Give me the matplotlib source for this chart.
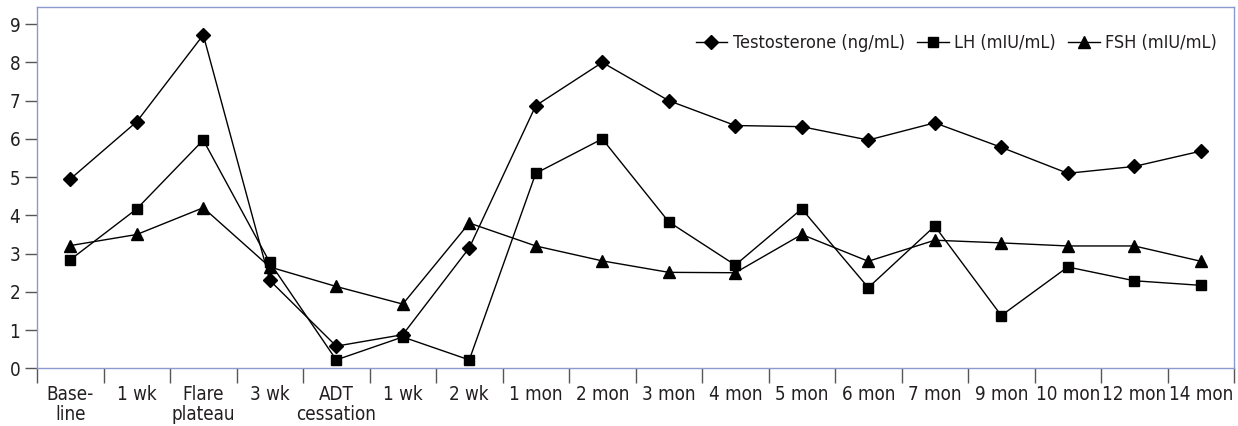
import matplotlib
matplotlib.use("Agg")
from matplotlib import pyplot as plt
from matplotlib import font_manager
from matplotlib.ticker import FixedLocator, NullFormatter

# categories along the x axis
categories = ["Base-\nline", "1 wk", "Flare\nplateau", "3 wk", "ADT\ncessation", "1 wk", "2 wk",
              "1 mon", "2 mon", "3 mon", "4 mon", "5 mon", "6 mon", "7 mon", "9 mon",
              "10 mon", "12 mon", "14 mon"]

testosterone = [4.95, 6.45, 8.72, 2.3, 0.58, 0.88, 3.15, 6.87, 8.0, 7.0, 6.35, 6.32,
                5.97, 6.42, 5.78, 5.1, 5.28, 5.68]
lh = [2.84, 4.17, 5.97, 2.77, 0.22, 0.82, 0.22, 5.1, 6.0, 3.83, 2.7, 4.17,
      2.11, 3.72, 1.38, 2.65, 2.29, 2.17]
fsh = [3.21, 3.5, 4.2, 2.65, 2.14, 1.68, 3.8, 3.2, 2.81, 2.51, 2.5, 3.5,
       2.8, 3.35, 3.28, 3.2, 3.2, 2.8]

yticks = list(range(0, 10))

# a narrow face is closest to the original typeface
fonts = font_manager.fontManager.ttflist
names = set(f.name for f in fonts)
if "Liberation Sans Narrow" in names:
    plt.rcParams['font.family'] = ["Liberation Sans Narrow", "DejaVu Sans"]
else:
    plt.rcParams['font.family'] = ["DejaVu Sans"]
    if any(f.name == "DejaVu Sans" and f.stretch == "condensed" for f in fonts):
        plt.rcParams['font.stretch'] = "condensed"

text_col = "#231f20"
frame_col = "#8a9ad0"
fs = 13.5

fig = plt.figure(figsize=(12.38, 4.26), dpi=100)
ax = fig.add_axes([0.0299, 0.1354, 0.9669, 0.8482])

x = list(range(len(categories)))
ax.plot(x, testosterone, color="black", lw=1, marker="D", ms=7.5, label="Testosterone (ng/mL)")
ax.plot(x, lh, color="black", lw=1, marker="s", ms=7.5, label="LH (mIU/mL)")
ax.plot(x, fsh, color="black", lw=1, marker="^", ms=8.5, label="FSH (mIU/mL)")

ax.set_xlim(-0.5, len(categories) - 0.5)
ax.set_ylim(0, 9.45)

for s in ax.spines.values():
    s.set_color(frame_col)
    s.set_linewidth(1)

ax.set_yticks(yticks)
ax.set_yticklabels([str(v) for v in yticks])
ax.tick_params(axis="y", direction="out", length=9, width=1, color="#555555",
               labelsize=fs, labelcolor=text_col, pad=3)

# category labels at centres, ticks at the boundaries
ax.set_xticks(x)
ax.set_xticklabels(categories, linespacing=1.05)
ax.tick_params(axis="x", which="major", length=0, labelsize=fs, labelcolor=text_col, pad=12)
ax.xaxis.set_minor_locator(FixedLocator([i - 0.5 for i in range(len(categories) + 1)]))
ax.xaxis.set_minor_formatter(NullFormatter())
ax.tick_params(axis="x", which="minor", direction="out", length=11, width=1, color="#555555")

ax.legend(loc="upper right", ncol=3, frameon=False, fontsize=13, handlelength=1.75,
          handletextpad=0.3, columnspacing=0.7, bbox_to_anchor=(0.995, 0.955),
          labelcolor=text_col, borderaxespad=0.2)

fig.savefig("out.png", dpi=100)
